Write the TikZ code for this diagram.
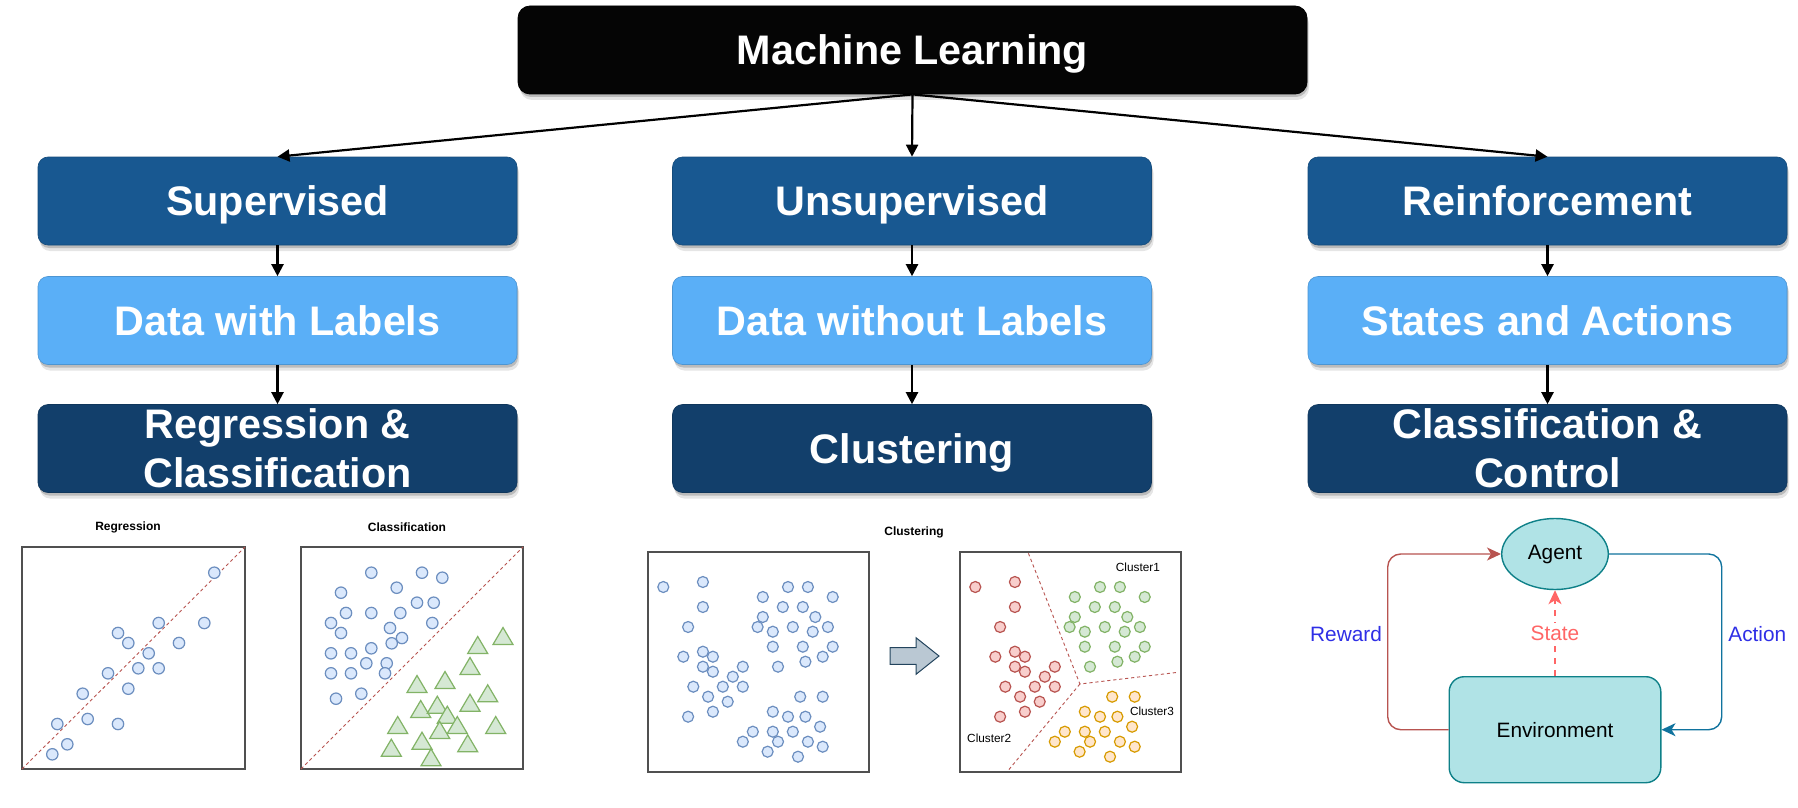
\documentclass[tikz,border=0pt]{standalone}
\usepackage{fontspec}
\setmainfont{Liberation Sans}
\usetikzlibrary{arrows.meta,shapes.geometric,shadows,calc}
\definecolor{mlblack}{HTML}{050505}
\definecolor{lvtwo}{HTML}{185891}
\definecolor{lvthree}{HTML}{5AAFF7}
\definecolor{lvfour}{HTML}{123F6B}
\definecolor{panelgray}{HTML}{505050}
\definecolor{dotbfill}{HTML}{DAE8FC}
\definecolor{dotbline}{HTML}{6C8EBF}
\definecolor{dotgfill}{HTML}{D5E8D4}
\definecolor{dotgline}{HTML}{82B366}
\definecolor{dotrfill}{HTML}{F8CECC}
\definecolor{dotrline}{HTML}{B85450}
\definecolor{dotofill}{HTML}{FFE6CC}
\definecolor{dotoline}{HTML}{D79B00}
\definecolor{tealfill}{HTML}{B0E3E6}
\definecolor{tealline}{HTML}{0E8088}
\definecolor{actblue}{HTML}{10739E}
\definecolor{statered}{HTML}{FF6666}
\definecolor{lblblue}{HTML}{2F2FE6}
\definecolor{arrfill}{HTML}{BAC8D3}
\definecolor{arrline}{HTML}{23445D}
\newcommand\hdrfont{\fontsize{20.65pt}{24.5pt}\selectfont\bfseries}
\newcommand\smallttl{\fontsize{6pt}{7pt}\selectfont\bfseries}
\newcommand\clusfont{\fontsize{5.9pt}{7pt}\selectfont}
\newcommand\rlfont{\fontsize{10.4pt}{12pt}\selectfont}
\begin{document}
\begin{tikzpicture}[x=0.5pt,y=-0.5pt,
  boxshadow/.style={drop shadow={shadow xshift=0.5pt,shadow yshift=-1.5pt,opacity=0.18,fill=black},
                    drop shadow={shadow xshift=1pt,shadow yshift=-3pt,opacity=0.10,fill=black}},
  hdr/.style={rectangle,rounded corners=5pt,inner sep=0pt,minimum width=239.5pt,minimum height=44pt,
              text=white,align=center,font=\hdrfont,boxshadow},
  oneline/.style={text height=14.9pt,text depth=0pt},
  lvtwobox/.style={hdr,oneline,fill=lvtwo,draw=lvtwo!85!black,line width=0.3pt},
  lvthreebox/.style={hdr,oneline,fill=lvthree,draw=lvthree!85!black,line width=0.3pt},
  lvfourbox/.style={hdr,fill=lvfour,draw=lvfour!85!black,line width=0.3pt},
  mainarrow/.style={-{Triangle[length=6pt,width=6pt]},line width=1.1pt,black},
  panel/.style={draw=panelgray,line width=0.7pt},
  sep/.style={draw=dotrline,line width=0.45pt,dash pattern=on 1.6pt off 1.4pt},
  dotb/.style={fill=dotbfill,draw=dotbline,line width=0.6pt},
  dotg/.style={fill=dotgfill,draw=dotgline,line width=0.6pt},
  dotr/.style={fill=dotrfill,draw=dotrline,line width=0.6pt},
  doto/.style={fill=dotofill,draw=dotoline,line width=0.6pt},
  trig/.style={fill=dotgfill,draw=dotgline,line width=0.6pt,line join=miter},
  ptitle/.style={font=\smallttl,inner sep=0pt},
  clabel/.style={font=\clusfont,inner sep=0pt},
  teal/.style={fill=tealfill,draw=tealline,line width=0.7pt,font=\rlfont,inner sep=0pt},
  rlarrow/.style={line width=0.7pt,-{Stealth[length=7pt,width=6.5pt,inset=2pt]}},
  rllabel/.style={font=\rlfont,inner sep=1pt}
]
\useasboundingbox (0,0) rectangle (1798,808);
\fill[white] (0,0) rectangle (1798,808);

% ---------- hierarchy ----------
\node[hdr,oneline,fill=mlblack,draw=black,rounded corners=6pt,minimum width=394.5pt] (ml) at (912.5,50) {Machine Learning};

\node[lvtwobox] (sup) at (277.5,201) {Supervised};
\node[lvtwobox] (uns) at (912,201) {Unsupervised};
\node[lvtwobox] (rei) at (1547.5,201) {Reinforcement};

\node[lvthreebox] (dwl) at (277.5,320.5) {Data with Labels};
\node[lvthreebox] (dwo) at (912,320.5) {Data without Labels};
\node[lvthreebox] (saa) at (1547.5,320.5) {States and Actions};

\node[lvfourbox] (rc) at (277.5,448.5) {Regression \&\\Classification};
\node[lvfourbox,oneline] (clu) at (912,448.5) {Clustering};
\node[lvfourbox] (cc) at (1547.5,448.5) {Classification \&\\Control};

\draw[mainarrow] (ml.south) -- (sup.north);
\draw[mainarrow] (ml.south) -- (uns.north);
\draw[mainarrow] (ml.south) -- (rei.north);
\draw[mainarrow] (sup.south) -- (dwl.north);
\draw[mainarrow] (uns.south) -- (dwo.north);
\draw[mainarrow] (rei.south) -- (saa.north);
\draw[mainarrow] (dwl.south) -- (rc.north);
\draw[mainarrow] (dwo.south) -- (clu.north);
\draw[mainarrow] (saa.south) -- (cc.north);

% ---------- regression ----------
\node[ptitle] (treg) at (128,527) {Regression};
\draw[panel] (22,547) rectangle (245,769);
\draw[sep] (22,769) -- (245,547);
\foreach \x/\y in {214.3/572.7,158.7/623,204.3/623,118/633,128.3/643,179/643,148.7/653.3,
  138.3/668.3,158.7/668.3,108/673.3,128.3/688.7,82.7/693.7,57.3/724,87.7/719,118/724,67.3/744.3,52.3/754.3}
  \draw[dotb] (\x,\y) circle[radius=5.7];

% ---------- classification ----------
\node[ptitle] (tcla) at (407,527) {Classification};
\draw[panel] (301,547) rectangle (523,769);
\draw[sep] (301,769) -- (523,547);
\foreach \x/\y in {371.3/572.7,422/572.7,442.3/577.7,341/592.7,396.7/587.7,417/602.7,433.7/602.7,
  346/613,371.3/613,400.3/613,331/623,432.3/623,341/633,390/628,402/638,391.7/643.3,331/653.3,
  351/653.3,371.3/648.3,366.3/663.3,386.7/663.3,331/673.3,351/673.3,385/673.3,336/698.7,361.3/693.7}
  \draw[dotb] (\x,\y) circle[radius=5.7];
\foreach \x/\y in {477.7/645,503/636,470/666,417/684,445/680,487.7/693.3,470/702.7,420.7/709,
  437.3/704.7,447.3/714.7,397.7/725,457.3/725,495.7/725,439.7/730,422/740.7,391.3/747.7,467.7/743.3,431/757.3}
  \draw[trig] (\x-10,\y+8.5) -- (\x+10,\y+8.5) -- (\x,\y-8.5) -- cycle;

% ---------- clustering ----------
\node[ptitle] (tclu) at (914,532) {Clustering};
\draw[panel] (648,552) rectangle (869,772);
\draw[panel] (960,552) rectangle (1181,772);
% red group
\foreach \x/\y in {663.3/587,702.9/582,702.9/607,688.1/627,683.3/656.7,702.9/651.7,712.9/656.7,
  702.9/666.7,712.9/671.7,742.8/666.7,732.8/676.7,693.3/686.7,722.8/686.7,742.8/686.7,708.1/696.7,
  727.7/701.7,688.1/716.7,712.9/711.7}
  {\draw[dotb] (\x,\y) circle[radius=5.5];
   \draw[dotr] (\x+312,\y) circle[radius=5.5];}
% green group
\foreach \x/\y in {762.8/597,788/587,807.9/587,832.7/597,782.8/607,802.8/607,762.8/617,815.3/617,
  757.6/627,772.8/631.7,792.8/627,812.7/631.7,827.9/627,772.8/646.7,802.8/646.7,832.7/646.7,
  822.7/656.7,778/666.7,805.4/661.7}
  {\draw[dotb] (\x,\y) circle[radius=5.5];
   \draw[dotg] (\x+312,\y) circle[radius=5.5];}
% orange group
\foreach \x/\y in {800.2/696.7,822.7/696.7,772.8/711.7,788/716.7,805.4/716.7,820.1/726.7,752.8/731.7,
  772.8/731.7,792.8/731.7,742.8/741.7,778/741.7,807.9/741.7,822.7/746.7,767.6/751.7,798/756.7}
  {\draw[dotb] (\x,\y) circle[radius=5.5];
   \draw[doto] (\x+312,\y) circle[radius=5.5];}
\coordinate (cmid) at (1079.9,684);
\draw[sep] (1028.4,553.3) -- (cmid) -- (1177.9,672.3);
\draw[sep] (cmid) -- (1007.7,771);
\node[clabel] (c1) at (1137.9,567) {Cluster1};
\node[clabel] (c3) at (1152,711.7) {Cluster3};
\node[clabel] (c2) at (989.2,738.7) {Cluster2};
\draw[fill=arrfill,draw=arrline,line width=0.5pt,line join=miter]
  (890,647.7) -- (916,647.7) -- (916,637.7) -- (939,656) -- (916,674.3) -- (916,664.3) -- (890,664.3) -- cycle;

% ---------- reinforcement ----------
\node[teal,ellipse,minimum width=53.3pt,minimum height=35.5pt] (agent) at (1555,554) {Agent};
\node[teal,rectangle,rounded corners=7.5pt,minimum width=105.8pt,minimum height=53pt] (env) at (1555,729.7) {Environment};
\coordinate (rx) at (1387.7,640);
\coordinate (ax) at (1721.7,640);
\draw[rlarrow,draw=dotrline,rounded corners=6.5pt,-{Stealth[length=7pt,width=6.5pt,inset=2pt,fill=dotrline]}]
  (env.west) -- (env.west -| rx) |- (agent.west);
\draw[rlarrow,draw=actblue,rounded corners=6.5pt]
  (agent.east) -- (agent.east -| ax) |- (env.east);
\draw[rlarrow,draw=statered,dash pattern=on 3pt off 3pt] (env.north) -- (agent.south)
  node[midway,rllabel,fill=white,text=statered,inner sep=1.5pt] (lstate) {State};
\node[rllabel,text=lblblue] (lrew) at (1346,634) {Reward};
\node[rllabel,text=lblblue] (lact) at (1757.3,634) {Action};
\end{tikzpicture}
\end{document}
